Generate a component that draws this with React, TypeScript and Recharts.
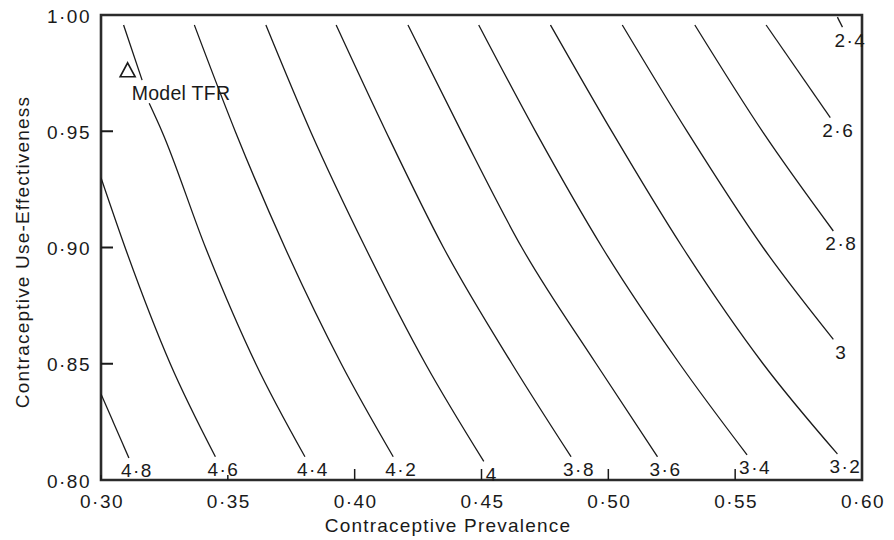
import React from 'react';
import { ComposedChart, Line, Scatter, XAxis, YAxis, ReferenceArea, LabelList, Label } from 'recharts';

const prevalenceTicks = [0.3, 0.35, 0.4, 0.45, 0.5, 0.55, 0.6];
const prevalenceLabels = ['0·30', '0·35', '0·40', '0·45', '0·50', '0·55', '0·60'];
const effectTicks = [0.8, 0.85, 0.9, 0.95, 1.0];
const effectLabels = ['0·80', '0·85', '0·90', '0·95', '1·00'];

// contour lines: [prevalence, use-effectiveness]
const tfr48 = [[0.3, 0.837], [0.311, 0.8095]];
const tfr46 = [[0.3, 0.93], [0.3095, 0.9], [0.3273, 0.85], [0.3451, 0.81]];
const tfr44 = [[0.3089, 0.9957], [0.3162, 0.972], [0.3175, null], [0.319, 0.962], [0.3242, 0.9495], [0.3412, 0.9], [0.361, 0.85], [0.3804, 0.81]];
const tfr42 = [[0.3368, 0.9957], [0.3531, 0.9495], [0.3725, 0.9], [0.3947, 0.85], [0.4152, 0.81]];
const tfr40 = [[0.365, 0.9957], [0.3828, 0.9495], [0.4042, 0.9], [0.4279, 0.85], [0.4509, 0.808]];
const tfr38 = [[0.3927, 0.9957], [0.4125, 0.9495], [0.435, 0.9], [0.462, 0.85], [0.4853, 0.81]];
const tfr36 = [[0.421, 0.9957], [0.4422, 0.9495], [0.4659, 0.9], [0.4952, 0.85], [0.5194, 0.81]];
const tfr34 = [[0.4489, 0.9957], [0.4715, 0.9495], [0.4976, 0.9], [0.5281, 0.85], [0.5547, 0.8108]];
const tfr32 = [[0.4772, 0.9957], [0.5016, 0.9495], [0.5293, 0.9], [0.561, 0.85], [0.5903, 0.8112]];
const tfr30 = [[0.5055, 0.9957], [0.5313, 0.9495], [0.561, 0.9], [0.5887, 0.8605]];
const tfr28 = [[0.5341, 0.9957], [0.561, 0.9495], [0.5887, 0.9071]];
const tfr26 = [[0.5622, 0.9957], [0.5875, 0.9559]];
const tfr24 = [[0.5903, 0.9991], [0.5923, 0.9948]];

const contourLevels = ['4·8', '4·6', '4·4', '4·2', '4', '3·8', '3·6', '3·4', '3·2', '3', '2·8', '2·6', '2·4'];
const contourLines = [tfr48, tfr46, tfr44, tfr42, tfr40, tfr38, tfr36, tfr34, tfr32, tfr30, tfr28, tfr26, tfr24];

const modelPoint = [{ u: 0.3105, e: 0.976 }];

const FONT = '"Liberation Sans", Arial, Helvetica, sans-serif';
const INK = '#1a1a1a';

const XTick = (props: any) => {
    const { x, y, payload, index } = props;
    const v = payload.value;
    const len = v >= 0.599 ? 0 : v < 0.36 ? 5 : 11;
    return (
        <g>
            {len > 0 && <line x1={x} y1={y} x2={x} y2={y - len} stroke={INK} strokeWidth={1.5} />}
            <text x={x + 1} y={y + 21} textAnchor="middle" dominantBaseline="central" fontSize={19} fontFamily={FONT} fill={INK} letterSpacing={1.5}>
                {prevalenceLabels[index] ?? ''}
            </text>
        </g>
    );
};

const YTick = (props: any) => {
    const { x, y, payload, index } = props;
    const v = payload.value;
    const len = v > 0.81 && v < 0.99 ? 12 : 0;
    return (
        <g>
            {len > 0 && <line x1={x} y1={y} x2={x + len} y2={y} stroke={INK} strokeWidth={2} />}
            <text x={x - 10} y={y + 1} textAnchor="end" dominantBaseline="central" fontSize={19} fontFamily={FONT} fill={INK} letterSpacing={1.5}>
                {effectLabels[index] ?? ''}
            </text>
        </g>
    );
};

const ModelMarker = (props: any) => {
    const { cx, cy } = props;
    return (
        <g>
            <path d={`M${cx},${cy - 8} L${cx + 7.5},${cy + 6} L${cx - 7.5},${cy + 6} Z`} fill="none" stroke={INK} strokeWidth={1.6} />
            <text x={cx + 4} y={cy + 22} dominantBaseline="central" fontSize={19.5} fontFamily={FONT} fill={INK} letterSpacing={0.3}>Model TFR</text>
        </g>
    );
};

const endLabel = (level: string, last: number) => (p: any) => {
    if (p.index !== last) return <g />;
    const x = p.x ?? p.viewBox?.x;
    const y = p.y ?? p.viewBox?.y;
    return (
        <text x={x + 8} y={y + 13} textAnchor="middle" dominantBaseline="central" fontSize={19} fontFamily={FONT} fill={INK} letterSpacing={1.5}>
            {level}
        </text>
    );
};

export default function App() {
    return (
        <div style={{ position: 'absolute', left: 0, top: 0, background: '#fff' }}>
            <ComposedChart width={894} height={540} margin={{ top: 15, right: 32, bottom: 20, left: 41 }}>
                <XAxis
                    dataKey="u"
                    type="number"
                    domain={[0.3, 0.6]}
                    ticks={prevalenceTicks}
                    allowDataOverflow
                    height={40}
                    axisLine={false}
                    tickLine={false}
                    tickSize={0}
                    tickMargin={0}
                    interval={0}
                    tick={<XTick />}
                >
                    <Label
                        content={() => (
                            <text x={448} y={525} textAnchor="middle" dominantBaseline="central" fontSize={19} fontFamily={FONT} fill={INK} letterSpacing={1.2}>
                                Contraceptive Prevalence
                            </text>
                        )}
                    />
                </XAxis>
                <YAxis
                    type="number"
                    domain={[0.8, 1.0]}
                    ticks={effectTicks}
                    allowDataOverflow
                    width={60}
                    axisLine={false}
                    tickLine={false}
                    tickSize={0}
                    tickMargin={0}
                    interval={0}
                    tick={<YTick />}
                >
                    <Label
                        content={() => (
                            <text x={22} y={252} transform="rotate(-90 22 252)" textAnchor="middle" dominantBaseline="central" fontSize={19} fontFamily={FONT} fill={INK} letterSpacing={1.2}>
                                Contraceptive Use-Effectiveness
                            </text>
                        )}
                    />
                </YAxis>
                <ReferenceArea x1={0.3} x2={0.6} y1={0.8} y2={1.0} fill="none" stroke="#2b2b2b" strokeWidth={2.6} />
                {contourLines.map((pts, i) => {
                    const data = pts.map(([u, e]) => ({ u, e }));
                    return (
                        <Line
                            key={contourLevels[i]}
                            data={data}
                            dataKey="e"
                            type="monotone"
                            stroke={INK}
                            strokeWidth={1.3}
                            dot={false}
                            activeDot={false}
                            connectNulls={false}
                            isAnimationActive={false}
                        >
                            <LabelList dataKey="e" content={endLabel(contourLevels[i], data.length - 1)} />
                        </Line>
                    );
                })}
                <Scatter data={modelPoint} dataKey="e" shape={<ModelMarker />} isAnimationActive={false} />
            </ComposedChart>
        </div>
    );
}
